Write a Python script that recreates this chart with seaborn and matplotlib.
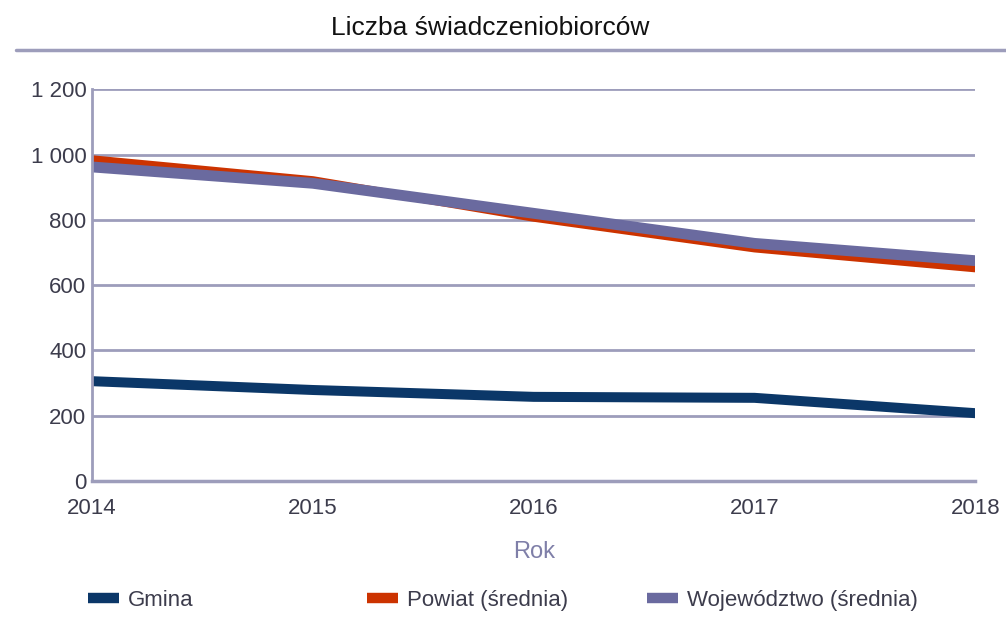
import numpy as np
import pandas as pd
import matplotlib
matplotlib.use("Agg")
import matplotlib.pyplot as plt
import seaborn as sns
from matplotlib.lines import Line2D
from matplotlib.ticker import FuncFormatter

years = [2014, 2015, 2016, 2017, 2018]
gmina = [306, 279, 258, 255, 208]
powiat = [985, 921, 807, 713, 652]
wojewodztwo = [962, 912, 820, 728, 675]

series_names = ["Gmina", "Powiat (średnia)", "Województwo (średnia)"]
colors = ["#0b3768", "#cc3300", "#6a6a9f"]
widths = [7.2, 6, 7.8]

sns.set_style("white")
plt.rcParams["font.family"] = ["Liberation Sans", "DejaVu Sans"]

grid_col = "#9d9dbb"
text_col = "#3c3c4c"

fig = plt.figure(figsize=(10.06, 6.24), dpi=100)
ax = fig.add_axes([0.0915, 0.229, 0.878, 0.628])

for name, vals, c, w in zip(series_names, [gmina, powiat, wojewodztwo], colors, widths):
    df = pd.DataFrame({"Rok": years, "Wartość": vals})
    sns.lineplot(data=df, x="Rok", y="Wartość", color=c, linewidth=w, ax=ax,
                 solid_capstyle="butt", solid_joinstyle="miter")

ax.set_xlim(2014, 2018)
ax.set_ylim(0, 1200)
ax.set_yticks(range(0, 1201, 200))
ax.set_xticks(years)
ax.yaxis.set_major_formatter(FuncFormatter(lambda v, p: f"{int(v):,}".replace(",", " ")))
ax.grid(axis="y", color=grid_col, linewidth=2)
ax.set_axisbelow(True)
for s in ["top", "right"]:
    ax.spines[s].set_visible(False)
ax.spines["left"].set_color(grid_col)
ax.spines["left"].set_linewidth(2)
ax.spines["bottom"].set_color(grid_col)
ax.spines["bottom"].set_linewidth(2.5)
ax.tick_params(axis="y", length=0, pad=4, labelsize=16, labelcolor=text_col)
ax.tick_params(axis="x", length=0, pad=12, labelsize=16, labelcolor=text_col)
ax.set_ylabel("")
ax.set_xlabel("Rok", fontsize=17, color="#7f7fa8", labelpad=16)

fig.text(0.487, 0.955, "Liczba świadczeniobiorców", ha="center", va="center",
         fontsize=19, color="#111111")
fig.add_artist(Line2D([0.016, 1.0], [0.92, 0.92], transform=fig.transFigure,
                      color=grid_col, linewidth=2.5))

# one legend per entry, the gaps in the reference are uneven
legend_x = [0.087, 0.365, 0.643]
for name, c, lx in zip(series_names, colors, legend_x):
    h = Line2D([0], [0], color=c, linewidth=7.5, solid_capstyle="butt")
    fig.legend([h], [name], loc="center left", bbox_to_anchor=(lx, 0.038),
               frameon=False, fontsize=16, handlelength=1.4, handletextpad=0.4,
               labelcolor=text_col, borderaxespad=0, borderpad=0)

fig.savefig("out.png", dpi=100)
